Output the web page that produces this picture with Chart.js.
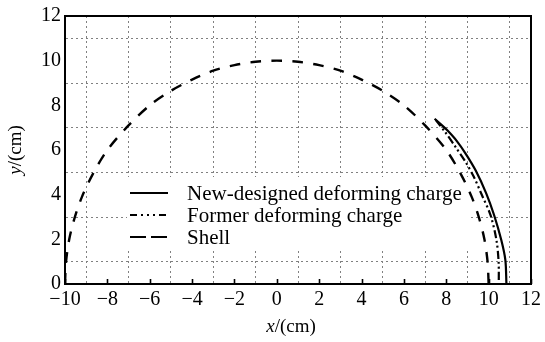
<!DOCTYPE html>
<html>
<head>
<meta charset="utf-8">
<script src="https://cdn.jsdelivr.net/npm/chart.js@4/dist/chart.umd.min.js"></script>
<style>
html,body{margin:0;padding:0;background:#fff;}
#wrap{width:545px;height:342px;}
</style>
</head>
<body>
<div id="wrap"><canvas id="c" width="545" height="342"></canvas></div>
<script>
// ---- data ----
const seriesNames = ['New-designed deforming charge', 'Former deforming charge', 'Shell'];
const newX = [7.45, 7.8, 8.06, 8.5, 8.92, 9.39, 9.89, 10.26, 10.6, 10.79, 10.84];
const newY = [7.4, 7.1, 6.87, 6.4, 5.83, 5.08, 4.05, 3.08, 1.96, 1.07, 0];
const formerX = [7.5, 7.95, 8.45, 8.92, 9.3, 9.65, 10.09, 10.37, 10.47, 10.48];
const formerY = [7.35, 6.8, 6.12, 5.45, 4.8, 4.05, 3.08, 1.96, 1.0, 0];
const shellX = [-10, -9.95, -9.8, -9.55, -9.2, -8.7, -8, -7, -6, -5, -4, -3, -2, -1, 0, 1, 2, 3, 4, 5, 6, 7, 8, 8.7, 9.2, 9.55, 9.8, 9.95, 10];
const shellY = [0, 1.0, 2.0, 2.95, 3.9, 4.9, 6.0, 7.1, 8.0, 8.65, 9.15, 9.55, 9.8, 9.95, 10, 9.95, 9.8, 9.55, 9.15, 8.65, 8.0, 7.1, 6.0, 4.9, 3.9, 2.95, 2.0, 1.0, 0];
const xTicks = [-10, -8, -6, -4, -2, 0, 2, 4, 6, 8, 10, 12];
const yTicks = [0, 2, 4, 6, 8, 10, 12];
const xRange = [-10, 12];
const yRange = [0, 12];

const pts = (xs, ys) => xs.map((x, i) => ({x: x, y: ys[i]}));
const SERIF = '"Liberation Serif", "DejaVu Serif", serif';
const fmt = v => (v < 0 ? '\u2212' + Math.abs(v) : String(v));

const legendStyles = [
  {dash: []},
  {dash: [7, 4, 2, 4, 2, 4, 2, 4]},
  {dash: [16, 5]}
];

const framePlugin = {
  id: 'frame',
  beforeDatasetsDraw(chart) {
    const ctx = chart.ctx, a = chart.chartArea;
    ctx.save();
    ctx.fillStyle = '#fff';
    ctx.fillRect(a.left + 62, a.top + 161, 342, 72);
    ctx.restore();
  },
  afterDatasetsDraw(chart) {
    const ctx = chart.ctx, a = chart.chartArea;
    const xs = chart.scales.x;
    ctx.save();
    ctx.strokeStyle = '#000';
    ctx.lineWidth = 1.6;
    ctx.setLineDash([]);
    // inward tick marks on the bottom axis
    xTicks.forEach(v => {
      const px = Math.round(xs.getPixelForValue(v)) + 0.5;
      ctx.beginPath();
      ctx.moveTo(px, a.bottom);
      ctx.lineTo(px, a.bottom - 5);
      ctx.stroke();
    });
    ctx.lineWidth = 2;
    ctx.strokeRect(a.left, a.top, a.right - a.left, a.bottom - a.top);
    // axis titles
    ctx.fillStyle = '#000';
    ctx.textBaseline = 'middle';
    const cx = (a.left + a.right) / 2 - 7;
    ctx.font = 'italic 19px ' + SERIF;
    const w1 = ctx.measureText('x').width;
    ctx.font = '19px ' + SERIF;
    const w2 = ctx.measureText('/(cm)').width;
    let sx = cx - (w1 + w2) / 2;
    ctx.textAlign = 'left';
    ctx.font = 'italic 19px ' + SERIF;
    ctx.fillText('x', sx, 327);
    ctx.font = '19px ' + SERIF;
    ctx.fillText('/(cm)', sx + w1, 327);

    ctx.save();
    ctx.translate(16, (a.top + a.bottom) / 2);
    ctx.rotate(-Math.PI / 2);
    ctx.font = 'italic 19px ' + SERIF;
    const v1 = ctx.measureText('y').width;
    ctx.font = '19px ' + SERIF;
    const v2 = ctx.measureText('/(cm)').width;
    let sy = -(v1 + v2) / 2;
    ctx.font = 'italic 19px ' + SERIF;
    ctx.fillText('y', sy, 0);
    ctx.font = '19px ' + SERIF;
    ctx.fillText('/(cm)', sy + v1, 0);
    ctx.restore();

    // legend
    const lx0 = a.left + 65, lx1 = a.left + 103, tx = a.left + 122;
    const rows = [a.top + 177, a.top + 199, a.top + 221];
    ctx.font = '21px ' + SERIF;
    chart.data.datasets.forEach((ds, i) => {
      ctx.strokeStyle = '#000';
      ctx.lineWidth = 2.2;
      ctx.setLineDash(legendStyles[i].dash);
      ctx.beginPath();
      ctx.moveTo(lx0, rows[i]);
      ctx.lineTo(lx1, rows[i]);
      ctx.stroke();
      ctx.setLineDash([]);
      ctx.fillText(ds.label, tx, rows[i] + 1);
    });
    ctx.restore();
  }
};

const gridColor = c => (Math.abs(c.tick.value) % 2 === 1 ? '#808080' : 'rgba(0,0,0,0)');

new Chart(document.getElementById('c'), {
  type: 'scatter',
  data: {
    datasets: [
      {label: seriesNames[0], data: pts(newX, newY), showLine: true, borderColor: '#000', borderWidth: 2.2, pointRadius: 0, tension: 0.3, fill: false},
      {label: seriesNames[1], data: pts(formerX, formerY), showLine: true, borderColor: '#000', borderWidth: 2.2, borderDash: [8, 3, 2, 3, 2, 3], pointRadius: 0, tension: 0.3, fill: false},
      {label: seriesNames[2], data: pts(shellX, shellY), showLine: true, borderColor: '#000', borderWidth: 2.4, borderDash: [11, 10], pointRadius: 0, tension: 0.3, fill: false}
    ]
  },
  options: {
    responsive: false,
    devicePixelRatio: 1,
    animation: false,
    layout: {padding: {top: 15, right: 11, left: 0, bottom: 0}},
    plugins: {legend: {display: false}, tooltip: {enabled: false}},
    scales: {
      x: {
        type: 'linear', min: xRange[0], max: xRange[1],
        afterFit: s => { s.height = 58; },
        afterBuildTicks: s => { s.ticks = []; for (let v = xRange[0]; v <= xRange[1]; v++) s.ticks.push({value: v}); },
        ticks: {
          autoSkip: false, maxRotation: 0, padding: 4, color: '#000',
          font: {family: SERIF, size: 20},
          callback: v => (xTicks.includes(v) ? fmt(v) : '')
        },
        grid: {color: gridColor, lineWidth: 1, drawTicks: false},
        border: {display: true, color: '#000', width: 2, dash: [2, 3]}
      },
      y: {
        type: 'linear', min: yRange[0], max: yRange[1],
        afterFit: s => { s.width = 65; },
        afterBuildTicks: s => { s.ticks = []; for (let v = yRange[0]; v <= yRange[1]; v++) s.ticks.push({value: v}); },
        ticks: {
          autoSkip: false, padding: 4, color: '#000',
          font: {family: SERIF, size: 20},
          callback: v => (yTicks.includes(v) ? fmt(v) : '')
        },
        grid: {color: gridColor, lineWidth: 1, drawTicks: false},
        border: {display: true, color: '#000', width: 2, dash: [2, 3]}
      }
    }
  },
  plugins: [framePlugin]
});
</script>
</body>
</html>
